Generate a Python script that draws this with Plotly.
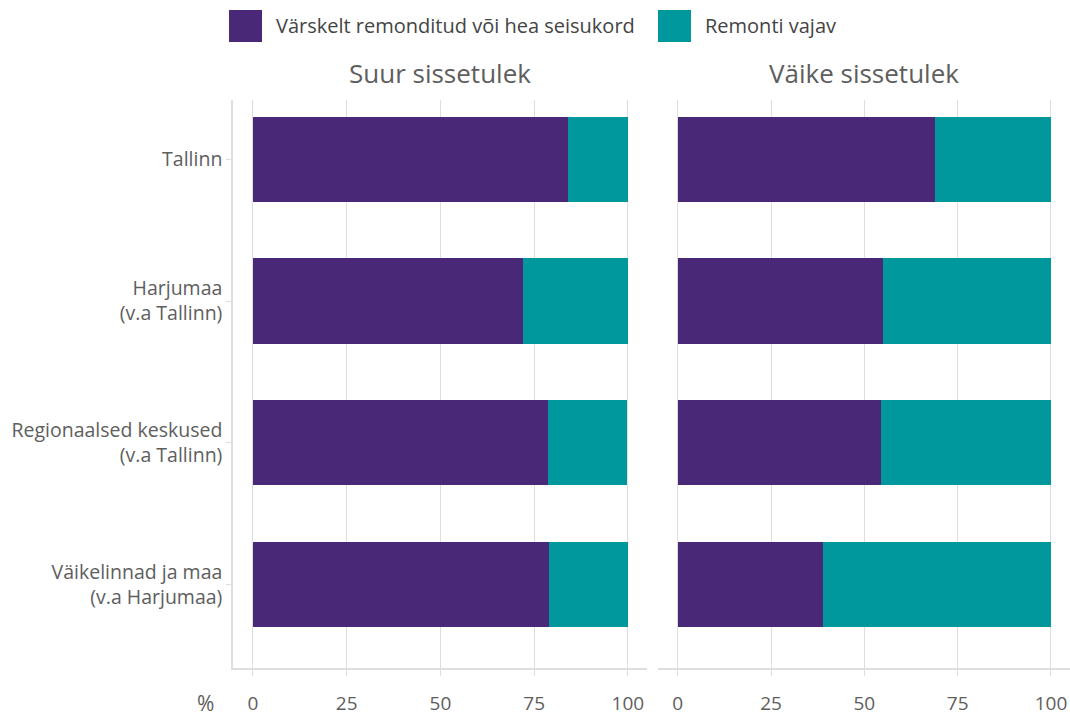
import plotly.graph_objects as go

categories = ["Tallinn", "Harjumaa<br>(v.a Tallinn)", "Regionaalsed keskused<br>(v.a Tallinn)",
              "Väikelinnad ja maa<br>(v.a Harjumaa)"]
panels = ["Suur sissetulek", "Väike sissetulek"]
series_names = ["Värskelt remonditud või hea seisukord", "Remonti vajav"]
good_suur = [84.0, 72.0, 78.7, 78.9]
need_suur = [16.0, 28.0, 21.0, 21.0]
good_vaike = [68.8, 54.9, 54.4, 38.9]
need_vaike = [31.2, 45.1, 45.6, 61.1]
x_ticks = [0, 25, 50, 75, 100]

PURPLE = "#4a2878"
TEAL = "#00979d"
GRID = "#dedede"
TXT = "#5e5e5e"
FONT = "Open Sans"

fig = go.Figure()
ypos = list(range(len(categories)))
data = [(good_suur, need_suur, "x", "y"), (good_vaike, need_vaike, "x2", "y2")]
for g, n, xa, ya in data:
    fig.add_trace(go.Bar(y=ypos, x=g, orientation="h", marker=dict(color=PURPLE, line=dict(width=0)),
                         width=0.6, name=series_names[0], showlegend=False, xaxis=xa, yaxis=ya))
    fig.add_trace(go.Bar(y=ypos, x=n, orientation="h", marker=dict(color=TEAL, line=dict(width=0)),
                         width=0.6, name=series_names[1], showlegend=False, xaxis=xa, yaxis=ya))

W, H = 1070, 716
def px(x): return x / W
def py(y): return 1 - y / H

xr = [-5.3, 105.1]
yr = [3.59, -0.42]
common_x = dict(range=xr, tickvals=x_ticks, showgrid=True, gridcolor=GRID, gridwidth=1,
                zeroline=False, showline=True, linecolor=GRID, linewidth=1.5,
                ticks="outside", ticklen=6, tickcolor=GRID,
                tickfont=dict(family=FONT, size=19, color=TXT), ticklabelstandoff=11, fixedrange=True)
fig.update_layout(
    width=W, height=H, barmode="stack", bargap=0.4,
    plot_bgcolor="white", paper_bgcolor="white",
    margin=dict(l=0, r=0, t=0, b=0),
    font=dict(family=FONT, color=TXT),
    xaxis=dict(domain=[px(233), px(647)], anchor="y", **common_x),
    xaxis2=dict(domain=[px(658), 1.0], anchor="y2", **common_x),
    yaxis=dict(domain=[py(670), py(100)], anchor="x", range=yr, tickvals=ypos, ticktext=categories,
               showgrid=False, zeroline=False, showline=True, linecolor=GRID, linewidth=1.5,
               ticks="outside", ticklen=5, tickcolor=GRID,
               tickfont=dict(family=FONT, size=19.5, color=TXT)),
    yaxis2=dict(domain=[py(670), py(100)], anchor="x2", range=yr, tickvals=ypos, showticklabels=False,
                showgrid=False, zeroline=False, showline=False),
    showlegend=False,
)

# panel titles
fig.add_annotation(text=panels[0], x=(px(233) + px(647)) / 2, y=py(73), xref="paper", yref="paper",
                   showarrow=False, font=dict(family=FONT, size=26, color=TXT), xanchor="center", yanchor="middle")
fig.add_annotation(text=panels[1], x=(px(658) + 1.0) / 2, y=py(73), xref="paper", yref="paper",
                   showarrow=False, font=dict(family=FONT, size=26, color=TXT), xanchor="center", yanchor="middle")
# axis unit
fig.add_annotation(text="%", x=px(205), y=py(705), xref="paper", yref="paper", showarrow=False,
                   font=dict(family=FONT, size=21, color=TXT), xanchor="center", yanchor="middle")

# legend (drawn)
for (x0, color, label) in [(229, PURPLE, series_names[0]), (658, TEAL, series_names[1])]:
    fig.add_shape(type="rect", xref="paper", yref="paper", x0=px(x0), x1=px(x0 + 33), y0=py(42), y1=py(10),
                  fillcolor=color, line=dict(width=0))
    fig.add_annotation(text=label, x=px(x0 + 45), y=py(26), xref="paper", yref="paper", showarrow=False,
                       font=dict(family=FONT, size=20, color="#444444"), xanchor="left", yanchor="middle")

fig.write_html("out.html", config={"displayModeBar": False},
               post_script="document.body.style.margin='0';document.body.style.padding='0';")
